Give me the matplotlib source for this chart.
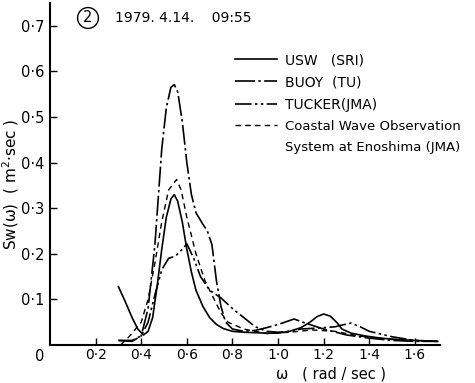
import matplotlib
matplotlib.use("Agg")
import matplotlib.pyplot as plt
from matplotlib.lines import Line2D

# ---- data ----
usw_w = [0.30, 0.33, 0.36, 0.385, 0.41, 0.43, 0.45, 0.47, 0.49, 0.51, 0.53, 0.545, 0.56, 0.58,
         0.60, 0.62, 0.64, 0.67, 0.70, 0.73, 0.76, 0.80, 0.85, 0.90, 0.95, 1.00, 1.05, 1.10,
         1.14, 1.17, 1.20, 1.23, 1.26, 1.28, 1.32, 1.38, 1.45, 1.55, 1.65, 1.70]
usw_s = [0.128, 0.095, 0.06, 0.035, 0.022, 0.03, 0.06, 0.13, 0.21, 0.28, 0.32, 0.33, 0.315, 0.27,
         0.21, 0.16, 0.12, 0.085, 0.06, 0.045, 0.036, 0.03, 0.028, 0.027, 0.026, 0.026, 0.03, 0.038,
         0.05, 0.062, 0.068, 0.063, 0.048, 0.035, 0.026, 0.02, 0.015, 0.011, 0.009, 0.008]

buoy_w = [0.30, 0.36, 0.40, 0.43, 0.46, 0.49, 0.51, 0.53, 0.545, 0.56, 0.58, 0.60, 0.62, 0.64,
          0.67, 0.69, 0.71, 0.73, 0.75, 0.77, 0.80, 0.85, 0.90, 0.95, 1.00, 1.07, 1.12, 1.20,
          1.30, 1.40, 1.50, 1.60, 1.70]
buoy_s = [0.01, 0.008, 0.02, 0.08, 0.22, 0.43, 0.52, 0.565, 0.571, 0.555, 0.49, 0.40, 0.33, 0.29,
          0.265, 0.25, 0.22, 0.14, 0.084, 0.05, 0.035, 0.03, 0.032, 0.038, 0.045, 0.057, 0.048, 0.035,
          0.022, 0.015, 0.01, 0.008, 0.008]

tucker_w = [0.30, 0.36, 0.40, 0.43, 0.46, 0.49, 0.52, 0.55, 0.58, 0.60, 0.63, 0.66, 0.70, 0.75,
            0.80, 0.85, 0.90, 0.95, 1.00, 1.05, 1.10, 1.20, 1.25, 1.30, 1.32, 1.36, 1.40, 1.50,
            1.60, 1.70]
tucker_s = [0.01, 0.01, 0.02, 0.05, 0.11, 0.165, 0.19, 0.195, 0.21, 0.222, 0.19, 0.15, 0.12, 0.103,
            0.08, 0.06, 0.04, 0.03, 0.028, 0.03, 0.035, 0.038, 0.04, 0.046, 0.048, 0.04, 0.03, 0.018,
            0.01, 0.008]

coast_w = [0.31, 0.35, 0.40, 0.43, 0.46, 0.49, 0.52, 0.555, 0.575, 0.60, 0.64, 0.68, 0.72, 0.75,
           0.78, 0.85, 0.95, 1.05, 1.15, 1.25, 1.35, 1.50, 1.70]
coast_s = [0.0, 0.02, 0.05, 0.10, 0.18, 0.27, 0.34, 0.363, 0.34, 0.28, 0.20, 0.14, 0.10, 0.07,
           0.05, 0.035, 0.025, 0.028, 0.033, 0.03, 0.02, 0.012, 0.008]

labels = ["USW   (SRI)", "BUOY  (TU)", "TUCKER(JMA)", "Coastal Wave Observation",
          "System at Enoshima (JMA)"]
xticks = [0.2, 0.4, 0.6, 0.8, 1.0, 1.2, 1.4, 1.6]
yticks = [0.1, 0.2, 0.3, 0.4, 0.5, 0.6, 0.7]

# ---- figure ----
fig = plt.figure(figsize=(4.75, 3.83), dpi=100)
ax = fig.add_axes([50/475, 38/383, 390/475, 342/383])
ax.set_xlim(0, 1.71)
ax.set_ylim(0, 0.75)

lw = 1.2
st_buoy = (0, (12, 2, 1.5, 2))
st_tuck = (0, (10, 2, 1.5, 2, 1.5, 2))
st_coast = (0, (4, 3))
ax.plot(usw_w, usw_s, color="black", lw=lw, ls="-")
ax.plot(buoy_w, buoy_s, color="black", lw=lw, ls=st_buoy)
ax.plot(tucker_w, tucker_s, color="black", lw=lw, ls=st_tuck)
ax.plot(coast_w, coast_s, color="black", lw=1.0, ls=st_coast)

for s in ["top", "right"]:
    ax.spines[s].set_visible(False)
for s in ["left", "bottom"]:
    ax.spines[s].set_linewidth(1.5)

ax.set_xticks(xticks)
ax.set_xticklabels([f"{v:.1f}".replace(".", "·") for v in xticks])
ax.set_yticks(yticks)
ax.set_yticklabels([f"{v:.1f}".replace(".", "·") for v in yticks])
ax.tick_params(direction="in", length=5, width=1, labelsize=10.5, pad=4)
ax.tick_params(axis="x", pad=2.5, labelsize=10)

ax.text(-0.045, -0.008, "0", fontsize=10.5, ha="center", va="top", transform=ax.transData)
ax.set_xlabel("ω   ( rad / sec )", fontsize=10.5)
ax.xaxis.set_label_coords(0.72, -0.064)
ax.set_ylabel("Sw(ω)  ( m$^2$·sec )", fontsize=11)
ax.yaxis.set_label_coords(-0.075, 0.47)

# title annotation
fig.text(88/475, 1 - 18/383, "2", fontsize=10.5, ha="center", va="center",
         bbox=dict(boxstyle="circle,pad=0.2", fc="white", ec="black", lw=1))
fig.text(115/475, 1 - 18/383, "1979. 4.14.    09:55", fontsize=10, ha="left", va="center")

# legend
handles = [Line2D([], [], color="black", lw=lw, ls="-"),
           Line2D([], [], color="black", lw=lw, ls=st_buoy),
           Line2D([], [], color="black", lw=lw, ls=st_tuck),
           Line2D([], [], color="black", lw=1.0, ls=st_coast),
           Line2D([], [], color="none")]
leg = ax.legend(handles, labels, loc="upper left", bbox_to_anchor=(0.46, 0.87),
                frameon=False, fontsize=10, handlelength=3.0, handletextpad=0.6,
                labelspacing=0.6, borderaxespad=0)
leg.texts[3].set_fontsize(9.5)
leg.texts[4].set_fontsize(9.5)

fig.savefig("out.png", dpi=100)
